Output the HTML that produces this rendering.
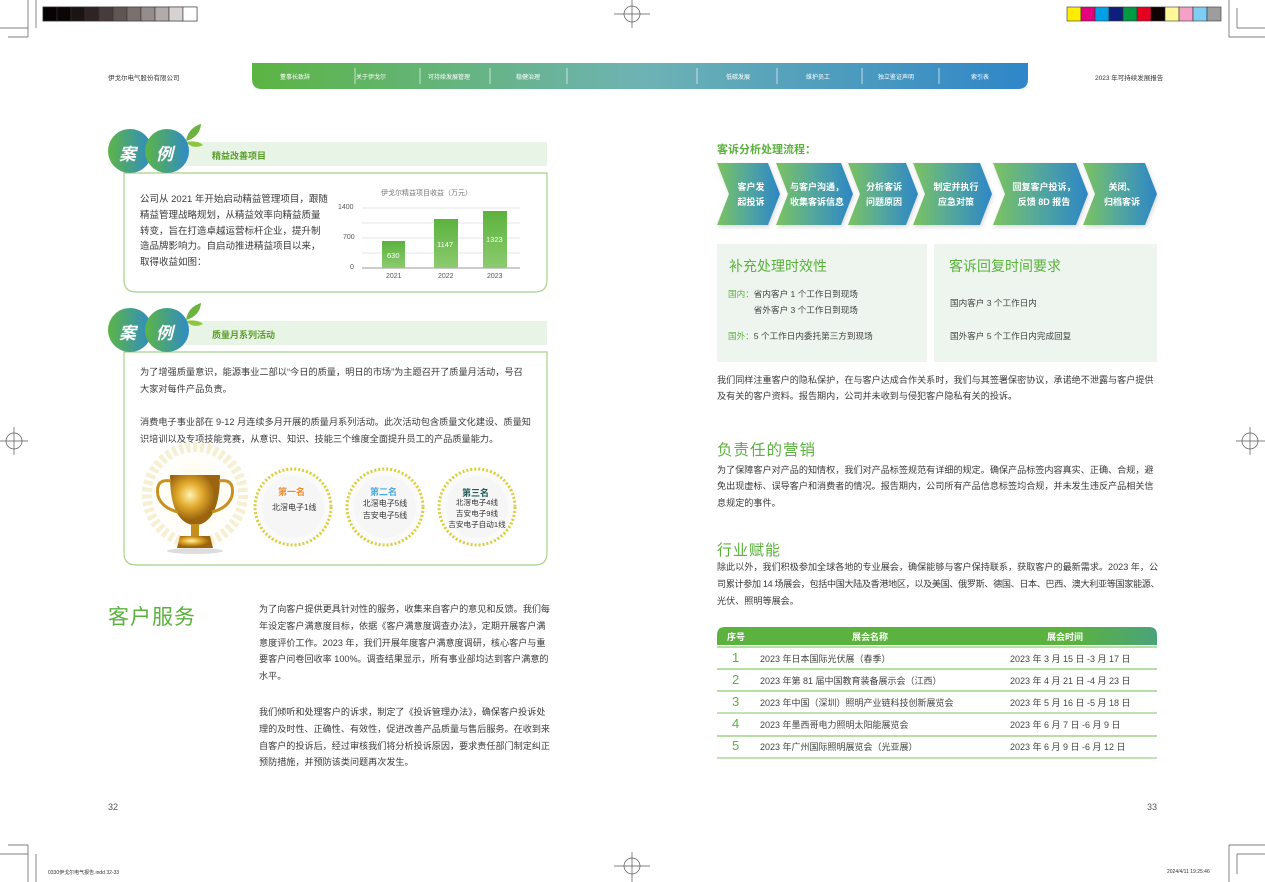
<!DOCTYPE html>
<html><head><meta charset="utf-8"><style>
*{margin:0;padding:0;box-sizing:border-box}
body{width:1265px;height:882px;position:relative;background:#fff;font-family:"Liberation Sans","Noto Sans CJK SC",sans-serif;color:#444;overflow:hidden}
.a{position:absolute;white-space:nowrap}
svg{position:absolute;left:0;top:0}
.g{color:#5bb13d}
</style></head><body>
<svg width="1265" height="882" viewBox="0 0 1265 882">
<defs>
<linearGradient id="nav" x1="0" x2="1"><stop offset="0" stop-color="#5cb443"/><stop offset=".5" stop-color="#6eb3b4"/><stop offset="1" stop-color="#2f86c8"/></linearGradient>
<linearGradient id="flow" x1="0" x2="1"><stop offset="0" stop-color="#7cc35f"/><stop offset=".45" stop-color="#56a99a"/><stop offset="1" stop-color="#2d86c6"/></linearGradient>
<linearGradient id="circ" x1="0" x2="1"><stop offset="0" stop-color="#5db545"/><stop offset="1" stop-color="#2e8bc6"/></linearGradient>
<linearGradient id="bar" x1="0" y1="0" x2="0" y2="1"><stop offset="0" stop-color="#5cb23e"/><stop offset="1" stop-color="#8ccb6f"/></linearGradient>
<linearGradient id="th" x1="0" x2="1"><stop offset="0" stop-color="#5cb23e"/><stop offset=".8" stop-color="#5cb23e"/><stop offset="1" stop-color="#4aa37a"/></linearGradient>
<radialGradient id="cup" cx=".4" cy=".4"><stop offset="0" stop-color="#fff3b0"/><stop offset=".5" stop-color="#e1a82a"/><stop offset="1" stop-color="#9a6410"/></radialGradient>
<radialGradient id="glow"><stop offset="0" stop-color="#fff6cf"/><stop offset="1" stop-color="#fff" stop-opacity="0"/></radialGradient>
</defs>
<g stroke="#333" stroke-width=".6">
<rect x="43" y="7" width="154" height="14" fill="none"/>
<rect x="43" y="7" width="14" height="14" fill="#070203"/><rect x="57" y="7" width="14" height="14" fill="#0c0506"/><rect x="71" y="7" width="14" height="14" fill="#1a1413"/><rect x="85" y="7" width="14" height="14" fill="#2d2423"/><rect x="99" y="7" width="14" height="14" fill="#463c3b"/><rect x="113" y="7" width="14" height="14" fill="#5f5553"/><rect x="127" y="7" width="14" height="14" fill="#7a716f"/><rect x="141" y="7" width="14" height="14" fill="#958d8b"/><rect x="155" y="7" width="14" height="14" fill="#b1abaa"/><rect x="169" y="7" width="14" height="14" fill="#d6d2d2"/><rect x="183" y="7" width="14" height="14" fill="#fff"/>
<rect x="1067" y="7" width="14" height="14" fill="#ffed00"/><rect x="1081" y="7" width="14" height="14" fill="#e6007e"/><rect x="1095" y="7" width="14" height="14" fill="#00a0e9"/><rect x="1109" y="7" width="14" height="14" fill="#0d1e7c"/><rect x="1123" y="7" width="14" height="14" fill="#009944"/><rect x="1137" y="7" width="14" height="14" fill="#e60020"/><rect x="1151" y="7" width="14" height="14" fill="#100403"/><rect x="1165" y="7" width="14" height="14" fill="#fff799"/><rect x="1179" y="7" width="14" height="14" fill="#f5a0c6"/><rect x="1193" y="7" width="14" height="14" fill="#7ecef4"/><rect x="1207" y="7" width="14" height="14" fill="#9d9d9d"/>
</g>
<g stroke="#555" stroke-width=".7" fill="none">
<path d="M36 0V28M0 28H28M28 37V0M8 37H28"/>
<path d="M1229 0V37H1265M1237 28H1265M1237 28V8"/>
<path d="M36 882V854M0 854H28M28 845V882M8 845H28"/>
<path d="M1229 882V845H1265M1237 854H1265M1237 854V874"/>
<circle cx="632" cy="14" r="8"/><path d="M632 0V28M614 14H650"/>
<circle cx="632" cy="866" r="8"/><path d="M632 852V882M614 866H650"/>
<circle cx="14" cy="441" r="8"/><path d="M0 441H28M14 427V455"/>
<circle cx="1250" cy="441" r="8"/><path d="M1236 441H1265M1250 427V455"/>
</g>
<path d="M252 63H1028V79Q1028 89 1018 89H262Q252 89 252 79Z" fill="url(#nav)"/>
<g stroke="#fff" stroke-opacity=".8" stroke-width=".8">
<path d="M355 68V84M420 68V84M490 68V84M567 68V84M697 68V84M777 68V84M862 68V84M939 68V84"/></g>
<rect x="185" y="142" width="362" height="24" fill="#e8f4e6"/>
<path d="M124 173H547V280Q547 292 535 292H136Q124 292 124 280Z" fill="#fff" stroke="#a8d18d" stroke-width="1.2"/>
<path d="M186 141Q188 128 201 124Q200 137 186 141Z" fill="#6cb33f"/><path d="M186 142Q197 140 203 145Q193 150 186 142Z" fill="#8cc63f"/>
<circle cx="130" cy="151" r="22" fill="url(#circ)"/><circle cx="167" cy="151" r="22" fill="url(#circ)"/>
<g stroke="#e6e6e6"><path d="M362 208H520M362 223H520M362 238H520M362 253H520"/></g>
<path d="M362 268H520" stroke="#999"/>
<rect x="382" y="241" width="23" height="27" fill="url(#bar)"/>
<rect x="434" y="219" width="24" height="49" fill="url(#bar)"/>
<rect x="483" y="211" width="24" height="57" fill="url(#bar)"/>
<rect x="185" y="321" width="362" height="24" fill="#e8f4e6"/>
<path d="M124 352H547V553Q547 565 535 565H136Q124 565 124 553Z" fill="#fff" stroke="#a8d18d" stroke-width="1.2"/>
<path d="M186 320Q188 307 201 303Q200 316 186 320Z" fill="#6cb33f"/><path d="M186 321Q197 319 203 324Q193 329 186 321Z" fill="#8cc63f"/>
<circle cx="130" cy="330" r="22" fill="url(#circ)"/><circle cx="167" cy="330" r="22" fill="url(#circ)"/>
<circle cx="195" cy="495" r="55" fill="url(#glow)"/>
<circle cx="195" cy="495" r="48" fill="none" stroke="#f6efd2" stroke-width="10" stroke-dasharray="4 3"/>
<path d="M170 475H220Q220 520 198 525H192Q170 520 170 475Z" fill="url(#cup)"/>
<path d="M171 481Q155 478 158 496Q162 508 178 512" fill="none" stroke="#c8901e" stroke-width="3"/>
<path d="M219 481Q235 478 232 496Q228 508 212 512" fill="none" stroke="#c8901e" stroke-width="3"/>
<rect x="191" y="524" width="8" height="12" fill="#c58d1e"/>
<path d="M180 536H210L213 548H177Z" fill="url(#cup)"/>
<ellipse cx="195" cy="551" rx="28" ry="3" fill="#ddd"/>
<g fill="#fafafa" stroke="#d8cf3a" stroke-width="3" stroke-dasharray="2 2">
<circle cx="293" cy="507" r="38"/><circle cx="385" cy="507" r="38"/><circle cx="477" cy="507" r="38"/></g>
<g fill="#f6f6f6"><circle cx="293" cy="507" r="31"/><circle cx="385" cy="507" r="31"/><circle cx="477" cy="507" r="31"/></g>
<g fill="url(#flow)" style="filter:drop-shadow(1px 2px 2px rgba(0,0,0,.15))">
<path d="M717 163H768L780 194L768 225H717L729 194Z"/>
<path d="M776 163H841L853 194L841 225H776L788 194Z"/>
<path d="M848 163H906L918 194L906 225H848L860 194Z"/>
<path d="M913 163H980L992 194L980 225H913L925 194Z"/>
<path d="M993 163H1076L1088 194L1076 225H993L1005 194Z"/>
<path d="M1083 163H1145L1157 194L1145 225H1083L1095 194Z"/>
</g>
<rect x="717" y="244" width="210" height="118" fill="#eef5ee"/>
<rect x="934" y="244" width="223" height="118" fill="#eef5ee"/>
<path d="M717 635Q717 627 725 627H1149Q1157 627 1157 635V645H717Z" fill="url(#th)"/>
<g stroke="#6cbc4c" stroke-width="1"><path d="M717 647H1157M717 669H1157M717 691H1157M717 736H1157"/></g>
<g stroke="#a9d89a" stroke-width="1.5"><path d="M717 713H1157M717 758H1157"/></g>
</svg>

<div class="a" style="left:108px;top:72px;font-size:6.5px;color:#333">伊戈尔电气股份有限公司</div>
<div class="a" style="left:1095px;top:72px;font-size:6.5px;color:#333">2023 年可持续发展报告</div>
<div class="a" style="top:72px;left:0;font-size:6px;color:#fff">
<span class="a" style="left:280px">董事长致辞</span><span class="a" style="left:356px">关于伊戈尔</span><span class="a" style="left:428px">可持续发展管理</span><span class="a" style="left:516px">稳健治理</span><span class="a" style="left:726px">低碳发展</span><span class="a" style="left:806px">维护员工</span><span class="a" style="left:878px">独立鉴证声明</span><span class="a" style="left:971px">索引表</span></div>

<div class="a" style="left:119px;top:140px;font-size:17px;color:#fff;font-style:italic;font-weight:bold">案</div>
<div class="a" style="left:156px;top:140px;font-size:17px;color:#fff;font-style:italic;font-weight:bold">例</div>
<div class="a" style="left:212px;top:149px;font-size:9px;color:#5a9e2a;font-weight:bold">精益改善项目</div>
<div class="a" style="left:140px;top:192px;font-size:9.5px;line-height:15.8px;color:#3a3a3a">公司从 2021 年开始启动精益管理项目，跟随<br>精益管理战略规划，从精益效率向精益质量<br>转变，旨在打造卓越运营标杆企业，提升制<br>造品牌影响力。自启动推进精益项目以来，<br>取得收益如图：</div>
<div class="a" style="left:381px;top:188px;font-size:7px;color:#777">伊戈尔精益项目收益（万元）</div>
<div class="a" style="left:338px;top:204px;font-size:7px;color:#555">1400</div>
<div class="a" style="left:343px;top:234px;font-size:7px;color:#555">700</div>
<div class="a" style="left:350px;top:264px;font-size:7px;color:#555">0</div>
<div class="a" style="left:387px;top:251px;font-size:7.5px;color:#fff">630</div>
<div class="a" style="left:437px;top:240px;font-size:7.5px;color:#fff">1147</div>
<div class="a" style="left:486px;top:235px;font-size:7.5px;color:#fff">1323</div>
<div class="a" style="left:386px;top:273px;font-size:7px;color:#555">2021</div>
<div class="a" style="left:438px;top:273px;font-size:7px;color:#555">2022</div>
<div class="a" style="left:487px;top:273px;font-size:7px;color:#555">2023</div>

<div class="a" style="left:119px;top:319px;font-size:17px;color:#fff;font-style:italic;font-weight:bold">案</div>
<div class="a" style="left:156px;top:319px;font-size:17px;color:#fff;font-style:italic;font-weight:bold">例</div>
<div class="a" style="left:212px;top:328px;font-size:9px;color:#5a9e2a;font-weight:bold">质量月系列活动</div>
<div class="a" style="left:140px;top:364px;font-size:9.2px;line-height:16.6px;color:#3a3a3a">为了增强质量意识，能源事业二部以“今日的质量，明日的市场”为主题召开了质量月活动，号召<br>大家对每件产品负责。</div>
<div class="a" style="left:140px;top:414px;font-size:9.2px;line-height:16.6px;color:#3a3a3a">消费电子事业部在 9-12 月连续多月开展的质量月系列活动。此次活动包含质量文化建设、质量知<br>识培训以及专项技能竞赛，从意识、知识、技能三个维度全面提升员工的产品质量能力。</div>
<div class="a" style="left:278px;top:485px;font-size:9px;color:#f08a2c;font-weight:bold">第一名</div>
<div class="a" style="left:272px;top:502px;font-size:8px;color:#333">北滘电子1线</div>
<div class="a" style="left:370px;top:485px;font-size:9px;color:#4aa8e0;font-weight:bold">第二名</div>
<div class="a" style="left:362px;top:498px;font-size:8px;color:#333;text-align:center;line-height:12px;width:46px">北滘电子5线<br>吉安电子5线</div>
<div class="a" style="left:462px;top:486px;font-size:9px;color:#1f5a5a;font-weight:bold">第三名</div>
<div class="a" style="left:446px;top:497px;font-size:7.6px;color:#333;text-align:center;line-height:11px;width:62px">北滘电子4线<br>吉安电子9线<br>吉安电子自动1线</div>

<div class="a g" style="left:108px;top:601px;font-size:21px;letter-spacing:1px">客户服务</div>
<div class="a" style="left:259px;top:601px;font-size:9.1px;line-height:16.8px;color:#3a3a3a">为了向客户提供更具针对性的服务，收集来自客户的意见和反馈。我们每<br>年设定客户满意度目标，依据《客户满意度调查办法》，定期开展客户满<br>意度评价工作。2023 年，我们开展年度客户满意度调研，核心客户与重<br>要客户问卷回收率 100%。调查结果显示，所有事业部均达到客户满意的<br>水平。</div>
<div class="a" style="left:259px;top:704px;font-size:9.1px;line-height:16.8px;color:#3a3a3a">我们倾听和处理客户的诉求，制定了《投诉管理办法》，确保客户投诉处<br>理的及时性、正确性、有效性，促进改善产品质量与售后服务。在收到来<br>自客户的投诉后，经过审核我们将分析投诉原因，要求责任部门制定纠正<br>预防措施，并预防该类问题再次发生。</div>
<div class="a" style="left:108px;top:802px;font-size:9px;color:#555">32</div>
<div class="a" style="left:1147px;top:802px;font-size:9px;color:#555">33</div>
<div class="a" style="left:48px;top:869px;font-size:5px;color:#333">0330伊戈尔电气报告.indd 32-33</div>
<div class="a" style="left:1167px;top:869px;font-size:5px;color:#333">2024/4/11 19:25:46</div>

<div class="a g" style="left:717px;top:141px;font-size:11px;font-weight:bold">客诉分析处理流程：</div>
<div style="position:absolute;left:0;top:180px;font-size:9px;color:#fff;font-weight:bold;line-height:15px;text-align:center">
<div class="a" style="left:731px;width:40px">客户发<br>起投诉</div>
<div class="a" style="left:784px;width:66px">与客户沟通，<br>收集客诉信息</div>
<div class="a" style="left:856px;width:56px">分析客诉<br>问题原因</div>
<div class="a" style="left:922px;width:68px">制定并执行<br>应急对策</div>
<div class="a" style="left:1003px;width:82px">回复客户投诉，<br>反馈 8D 报告</div>
<div class="a" style="left:1093px;width:58px">关闭、<br>归档客诉</div></div>
<div class="a g" style="left:729px;top:256px;font-size:14px">补充处理时效性</div>
<div class="a g" style="left:949px;top:256px;font-size:14px">客诉回复时间要求</div>
<div class="a" style="left:728px;top:287px;font-size:8.6px;line-height:15.5px;color:#444"><span class="g">国内：</span>省内客户 1 个工作日到现场<br><span style="visibility:hidden">国内：</span>省外客户 3 个工作日到现场</div>
<div class="a" style="left:728px;top:330px;font-size:8.6px;color:#444"><span class="g">国外：</span>5 个工作日内委托第三方到现场</div>
<div class="a" style="left:950px;top:297px;font-size:8.6px;color:#444">国内客户 3 个工作日内</div>
<div class="a" style="left:950px;top:330px;font-size:8.6px;color:#444">国外客户 5 个工作日内完成回复</div>
<div class="a" style="left:717px;top:372px;font-size:9.1px;line-height:16.3px;color:#3a3a3a">我们同样注重客户的隐私保护，在与客户达成合作关系时，我们与其签署保密协议，承诺绝不泄露与客户提供<br>及有关的客户资料。报告期内，公司并未收到与侵犯客户隐私有关的投诉。</div>
<div class="a g" style="left:717px;top:438px;font-size:15.5px;letter-spacing:1px">负责任的营销</div>
<div class="a" style="left:717px;top:462px;font-size:9.1px;line-height:16.3px;color:#3a3a3a">为了保障客户对产品的知情权，我们对产品标签规范有详细的规定。确保产品标签内容真实、正确、合规，避<br>免出现虚标、误导客户和消费者的情况。报告期内，公司所有产品信息标签均合规，并未发生违反产品相关信<br>息规定的事件。</div>
<div class="a g" style="left:717px;top:539px;font-size:15px;letter-spacing:1px">行业赋能</div>
<div class="a" style="left:717px;top:559px;font-size:9.1px;line-height:17px;color:#3a3a3a">除此以外，我们积极参加全球各地的专业展会，确保能够与客户保持联系，获取客户的最新需求。2023 年，公<br><span style="letter-spacing:-0.35px">司累计参加 14 场展会，包括中国大陆及香港地区，以及美国、俄罗斯、德国、日本、巴西、澳大利亚等国家能源、</span><br>光伏、照明等展会。</div>
<div class="a" style="left:727px;top:630px;font-size:9px;color:#fff;font-weight:bold">序号</div>
<div class="a" style="left:852px;top:630px;font-size:9px;color:#fff;font-weight:bold">展会名称</div>
<div class="a" style="left:1047px;top:630px;font-size:9px;color:#fff;font-weight:bold">展会时间</div>
<div style="position:absolute;left:0;top:650px;font-size:9px;color:#444">
<div class="a g" style="left:732px;top:0;font-size:13px">1</div><div class="a" style="left:760px;top:2px">2023 年日本国际光伏展（春季）</div><div class="a" style="left:1010px;top:2px">2023 年 3 月 15 日 -3 月 17 日</div>
<div class="a g" style="left:732px;top:22px;font-size:13px">2</div><div class="a" style="left:760px;top:24px">2023 年第 81 届中国教育装备展示会（江西）</div><div class="a" style="left:1010px;top:24px">2023 年 4 月 21 日 -4 月 23 日</div>
<div class="a g" style="left:732px;top:44px;font-size:13px">3</div><div class="a" style="left:760px;top:46px">2023 年中国（深圳）照明产业链科技创新展览会</div><div class="a" style="left:1010px;top:46px">2023 年 5 月 16 日 -5 月 18 日</div>
<div class="a g" style="left:732px;top:66px;font-size:13px">4</div><div class="a" style="left:760px;top:68px">2023 年墨西哥电力照明太阳能展览会</div><div class="a" style="left:1010px;top:68px">2023 年 6 月 7 日 -6 月 9 日</div>
<div class="a g" style="left:732px;top:88px;font-size:13px">5</div><div class="a" style="left:760px;top:90px">2023 年广州国际照明展览会（光亚展）</div><div class="a" style="left:1010px;top:90px">2023 年 6 月 9 日 -6 月 12 日</div>
</div>
</body></html>
